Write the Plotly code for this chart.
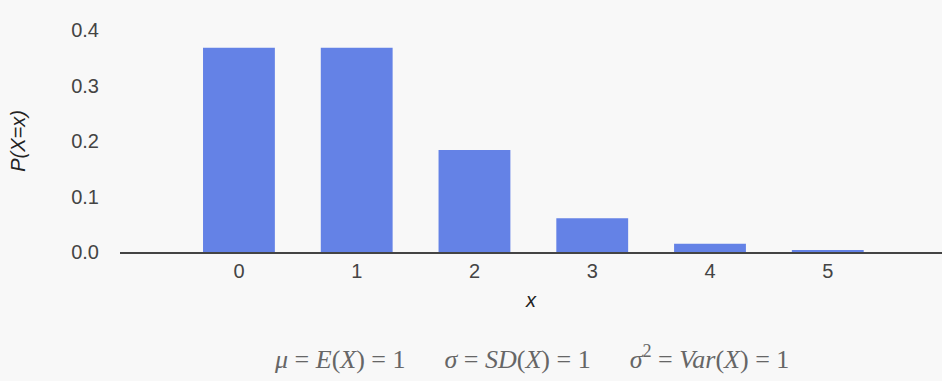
import plotly.graph_objects as go

# Poisson(1) probabilities
x_vals = [0, 1, 2, 3, 4, 5]
probs = [0.368, 0.368, 0.184, 0.061, 0.015, 0.003]
y_ticks = [0.0, 0.1, 0.2, 0.3, 0.4]
y_labels = ["0.0", "0.1", "0.2", "0.3", "0.4"]

fig = go.Figure(go.Bar(x=x_vals, y=probs, marker_color="#6482e6", width=0.61,
                       marker_line_width=0))

fig.update_layout(
    width=942, height=381,
    margin=dict(l=120, r=0, t=30, b=129),
    paper_bgcolor="#f8f8f8",
    plot_bgcolor="#f8f8f8",
    font=dict(family="Liberation Sans, Arial", size=20, color="#444"),
    showlegend=False,
)
fig.update_xaxes(
    range=[-1.01, 5.97], tickvals=x_vals, showgrid=False, zeroline=False,
    showline=True, linecolor="#444", linewidth=1.5,
    ticks="", ticklabelstandoff=0,
    title=dict(text="<i>x</i>", font=dict(size=20, color="#222"), standoff=12),
)
fig.update_yaxes(
    range=[0, 0.4], tickvals=y_ticks, ticktext=y_labels, showgrid=False,
    zeroline=False, showline=False, ticks="", ticklabelstandoff=20,
    title=dict(text="<i>P(X=x)</i>", font=dict(size=20, color="#222"), standoff=40),
)
eq = " = "
sp = "&nbsp;" * 6
fig.add_annotation(
    x=0.5, xref="paper", y=-0.56, yref="paper", showarrow=False,
    text="<i>μ</i>" + eq + "<i>E</i>(<i>X</i>)" + eq + "1" + sp +
         "<i>σ</i>" + eq + "<i>SD</i>(<i>X</i>)" + eq + "1" + sp +
         "<i>σ</i><sup>2</sup>" + eq + "<i>Var</i>(<i>X</i>)" + eq + "1",
    font=dict(family="Liberation Serif, Times New Roman", size=26, color="#666"),
)

fig.write_html("out.html", config={"displayModeBar": False},
               post_script="document.body.style.margin='0';")
